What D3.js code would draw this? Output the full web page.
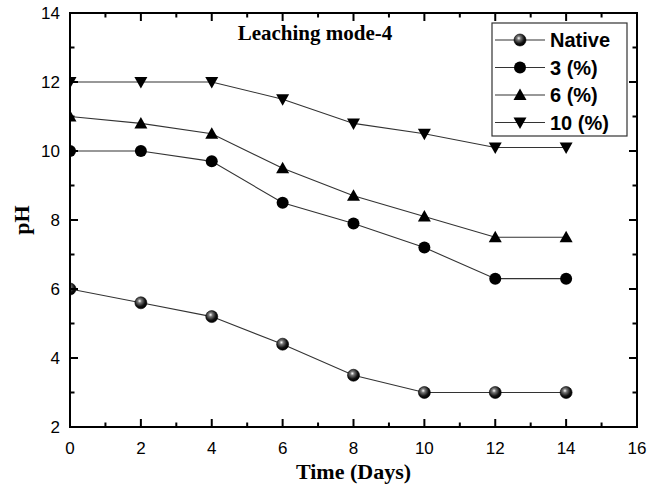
<!DOCTYPE html>
<html><head><meta charset="utf-8">
<script src="https://cdn.jsdelivr.net/npm/d3@7"></script>
<style>body{margin:0;background:#fff}svg{display:block}</style>
</head><body>
<script>
const days = [0, 2, 4, 6, 8, 10, 12, 14];
const native = [6, 5.6, 5.2, 4.4, 3.5, 3, 3, 3];
const pct3 = [10, 10, 9.7, 8.5, 7.9, 7.2, 6.3, 6.3];
const pct6 = [11, 10.8, 10.5, 9.5, 8.7, 8.1, 7.5, 7.5];
const pct10 = [12, 12, 12, 11.5, 10.8, 10.5, 10.1, 10.1];
const seriesNames = ["Native", "3 (%)", "6 (%)", "10 (%)"];
const xTicks = [0, 2, 4, 6, 8, 10, 12, 14, 16];
const yTicks = [2, 4, 6, 8, 10, 12, 14];

const W = 648, H = 493;
const m = {l: 70, r: 11, t: 13, b: 66};
const svg = d3.select("body").append("svg").attr("width", W).attr("height", H);
const x = d3.scaleLinear().domain([0, 16]).range([m.l, W - m.r]);
const y = d3.scaleLinear().domain([2, 14]).range([H - m.b, m.t]);

const defs = svg.append("defs");
const grad = defs.append("radialGradient").attr("id", "sphere").attr("cx", "40%").attr("cy", "35%").attr("r", "65%");
grad.append("stop").attr("offset", "0%").attr("stop-color", "#ffffff");
grad.append("stop").attr("offset", "25%").attr("stop-color", "#777");
grad.append("stop").attr("offset", "70%").attr("stop-color", "#111");
grad.append("stop").attr("offset", "100%").attr("stop-color", "#000");
defs.append("clipPath").attr("id", "clip").append("rect")
  .attr("x", x(0)).attr("y", y(14)).attr("width", x(16) - x(0)).attr("height", y(2) - y(14));

const series = [
  {name: seriesNames[0], vals: native, sym: "sphere"},
  {name: seriesNames[1], vals: pct3, sym: "circle"},
  {name: seriesNames[2], vals: pct6, sym: "up"},
  {name: seriesNames[3], vals: pct10, sym: "down"}
];

function drawMarker(g, sym) {
  if (sym === "sphere") g.append("circle").attr("r", 6).attr("fill", "url(#sphere)").attr("stroke", "#000").attr("stroke-width", 0.6);
  else if (sym === "circle") g.append("circle").attr("r", 6).attr("fill", "#000");
  else if (sym === "up") g.append("path").attr("d", "M0,-6.5L6.5,5L-6.5,5Z").attr("fill", "#000");
  else g.append("path").attr("d", "M0,6.5L6.5,-5L-6.5,-5Z").attr("fill", "#000");
}

const plot = svg.append("g").attr("clip-path", "url(#clip)");
const line = d3.line().x((d, i) => x(days[i])).y(d => y(d));
series.forEach(s => {
  plot.append("path").datum(s.vals).attr("d", line).attr("fill", "none").attr("stroke", "#333").attr("stroke-width", 1.1);
  s.vals.forEach((v, i) => {
    const g = plot.append("g").attr("transform", `translate(${x(days[i])},${y(v)})`);
    drawMarker(g, s.sym);
  });
});

// ticks drawn as explicit inward lines from the scales
const fontTick = "'Liberation Sans', Arial, sans-serif";
const minorX = d3.range(1, 16, 2), minorY = d3.range(3, 14, 2);
const tg = svg.append("g").attr("stroke", "#000").attr("stroke-width", 2);
function xt(vals, len) {
  vals.forEach(v => {
    tg.append("line").attr("x1", x(v)).attr("x2", x(v)).attr("y1", y(2)).attr("y2", y(2) - len);
    tg.append("line").attr("x1", x(v)).attr("x2", x(v)).attr("y1", y(14)).attr("y2", y(14) + len);
  });
}
function yt(vals, len) {
  vals.forEach(v => {
    tg.append("line").attr("y1", y(v)).attr("y2", y(v)).attr("x1", x(0)).attr("x2", x(0) + len);
    tg.append("line").attr("y1", y(v)).attr("y2", y(v)).attr("x1", x(16)).attr("x2", x(16) - len);
  });
}
xt(xTicks, 8); xt(minorX, 4.5); yt(yTicks, 8); yt(minorY, 4.5);

svg.append("g").selectAll("text").data(xTicks).join("text")
  .attr("x", d => x(d)).attr("y", y(2) + 27).attr("text-anchor", "middle")
  .attr("font-family", fontTick).attr("font-size", 17).text(d => d);
svg.append("g").selectAll("text").data(yTicks).join("text")
  .attr("x", x(0) - 10).attr("y", d => y(d)).attr("dy", "0.36em").attr("text-anchor", "end")
  .attr("font-family", fontTick).attr("font-size", 17).text(d => d);

svg.append("rect").attr("x", x(0)).attr("y", y(14)).attr("width", x(16) - x(0)).attr("height", y(2) - y(14))
  .attr("fill", "none").attr("stroke", "#000").attr("stroke-width", 2);

const serif = "'Liberation Serif', 'Times New Roman', serif";
svg.append("text").attr("x", (x(0) + x(16)) / 2).attr("y", 479).attr("text-anchor", "middle")
  .attr("font-family", serif).attr("font-weight", "bold").attr("font-size", 22).text("Time (Days)");
svg.append("text").attr("transform", `translate(29,${(y(2) + y(14)) / 2}) rotate(-90)`).attr("text-anchor", "middle")
  .attr("font-family", serif).attr("font-weight", "bold").attr("font-size", 22).text("pH");
svg.append("text").attr("x", 315).attr("y", 40).attr("text-anchor", "middle")
  .attr("font-family", serif).attr("font-weight", "bold").attr("font-size", 21).text("Leaching mode-4");

// legend
const lg = svg.append("g");
lg.append("rect").attr("x", 492).attr("y", 23).attr("width", 135).attr("height", 113)
  .attr("fill", "#fff").attr("stroke", "#333").attr("stroke-width", 1.2);
series.forEach((s, i) => {
  const yy = 40 + i * 27.5;
  lg.append("line").attr("x1", 495).attr("x2", 545).attr("y1", yy).attr("y2", yy).attr("stroke", "#333").attr("stroke-width", 1.1);
  const g = lg.append("g").attr("transform", `translate(520,${yy})`);
  drawMarker(g, s.sym);
  lg.append("text").attr("x", 550).attr("y", yy).attr("dy", "0.36em")
    .attr("font-family", fontTick).attr("font-weight", "bold").attr("font-size", 20).text(s.name);
});
</script>
</body></html>
